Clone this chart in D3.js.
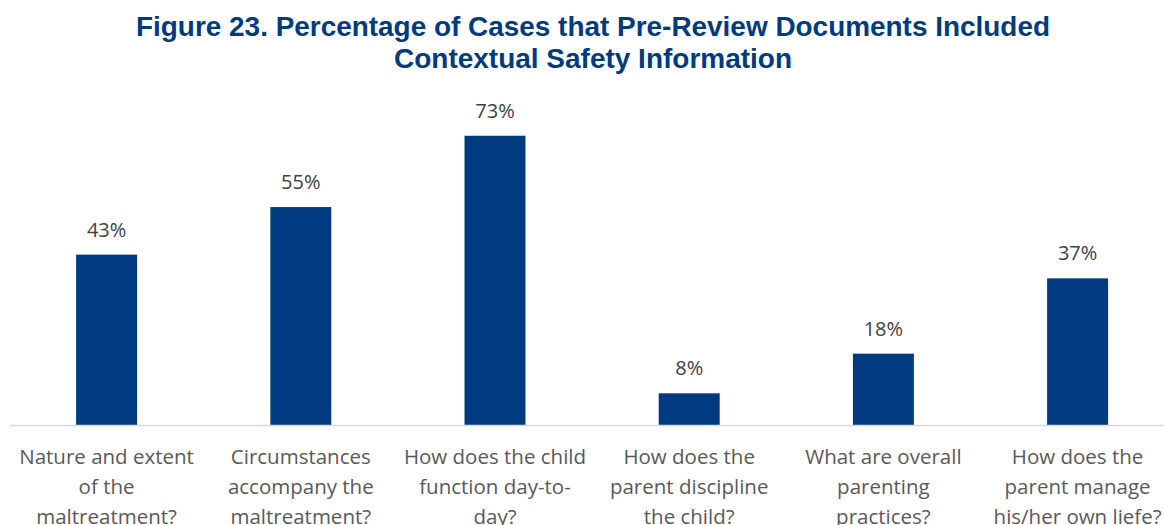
<!DOCTYPE html>
<html>
<head>
<meta charset="utf-8">
<script src="https://cdn.jsdelivr.net/npm/d3@7"></script>
<style>
  html, body { margin: 0; padding: 0; background: #fff; }
  svg { display: block; }
</style>
</head>
<body>
<svg id="chart" width="1164" height="525"></svg>
<script>
// Chart data
const categories = [
  "Nature and extent of the maltreatment?",
  "Circumstances accompany the maltreatment?",
  "How does the child function day-to-day?",
  "How does the parent discipline the child?",
  "What are overall parenting practices?",
  "How does the parent manage his/her own liefe?"
];
// Wrapped lines for each category label
const categoryLines = [
  ["Nature and extent", "of the", "maltreatment?"],
  ["Circumstances", "accompany the", "maltreatment?"],
  ["How does the child", "function day-to-", "day?"],
  ["How does the", "parent discipline", "the child?"],
  ["What are overall", "parenting", "practices?"],
  ["How does the", "parent manage", "his/her own liefe?"]
];
const percentages = [43, 55, 73, 8, 18, 37];
const titleLines = [
  "Figure 23. Percentage of Cases that Pre-Review Documents Included",
  "Contextual Safety Information"
];

const svg = d3.select("#chart");

const x = d3.scaleBand()
  .domain(categories)
  .range([9.5, 1174.7])
  .paddingInner(0.686)
  .paddingOuter(0.343);

const y = d3.scaleLinear()
  .domain([0, 80])
  .range([425, 108]);

// Title
svg.append("g")
  .selectAll("text")
  .data(titleLines)
  .join("text")
  .attr("x", 593)
  .attr("y", (d, i) => 36 + i * 32)
  .attr("text-anchor", "middle")
  .attr("font-family", "'Liberation Sans', Arial, sans-serif")
  .attr("font-weight", "bold")
  .attr("font-size", "27.5px")
  .attr("fill", "#003A80")
  .attr("textLength", (d, i) => i === 0 ? 914 : 398)
  .attr("lengthAdjust", "spacingAndGlyphs")
  .text(d => d);

// Bars
svg.append("g")
  .selectAll("rect")
  .data(percentages)
  .join("rect")
  .attr("x", (d, i) => x(categories[i]))
  .attr("width", x.bandwidth())
  .attr("y", d => y(d))
  .attr("height", d => y(0) - y(d))
  .attr("fill", "#003A80");

// Baseline axis
const axis = svg.append("g")
  .attr("transform", `translate(0,${y(0)})`)
  .call(d3.axisBottom(x).tickSize(0).tickFormat(""));
axis.select(".domain")
  .attr("stroke", "#D9D9D9")
  .attr("stroke-width", 1.5)
  .attr("d", `M10,0.5H1164`);

// Category labels
const labelFont = "'Open Sans', 'Noto Sans', sans-serif";
const catG = svg.append("g");
categoryLines.forEach((lines, i) => {
  const cx = x(categories[i]) + x.bandwidth() / 2;
  catG.append("text")
    .attr("text-anchor", "middle")
    .attr("font-family", labelFont)
    .attr("font-size", "20.5px")
    .attr("fill", "#595959")
    .selectAll("tspan")
    .data(lines)
    .join("tspan")
    .attr("x", cx)
    .attr("y", (d, j) => 464 + j * 30)
    .text(d => d);
});

// Value labels
svg.append("g")
  .selectAll("text")
  .data(percentages)
  .join("text")
  .attr("x", (d, i) => x(categories[i]) + x.bandwidth() / 2)
  .attr("y", d => y(d) - 18)
  .attr("text-anchor", "middle")
  .attr("font-family", labelFont)
  .attr("font-size", "20px")
  .attr("fill", "#404040")
  .text(d => d + "%");
</script>
</body>
</html>
